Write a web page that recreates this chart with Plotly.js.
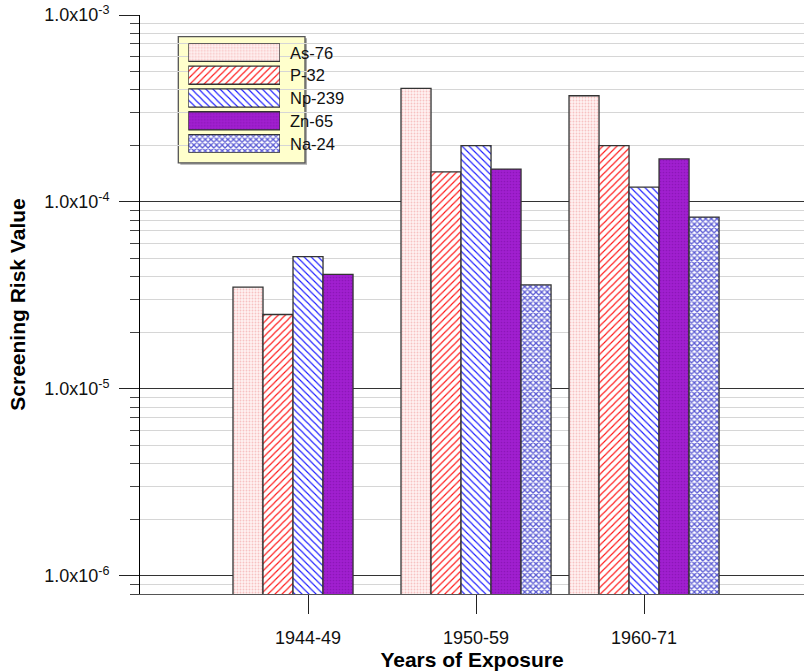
<!DOCTYPE html>
<html><head><meta charset="utf-8">
<script src="https://cdn.plot.ly/plotly-3.0.1.min.js"></script>
<style>html,body{margin:0;padding:0;background:#fff;overflow:hidden}</style>
</head><body><div id="chart" style="width:804px;height:672px"></div>
<script>
// ---- data ----
const periods = ['1944-49', '1950-59', '1960-71'];
const isotopes = ['As-76', 'P-32', 'Np-239', 'Zn-65', 'Na-24'];
const as76  = [3.5e-5, 4.05e-4, 3.7e-4];
const p32   = [2.5e-5, 1.45e-4, 2.0e-4];
const np239 = [5.1e-5, 2.0e-4, 1.2e-4];
const zn65  = [4.1e-5, 1.5e-4, 1.7e-4];
const na24  = [null, 3.6e-5, 8.3e-5];
const yTickVals = [1e-6, 1e-5, 1e-4, 1e-3];
const yTickText = ['1.0x10<sup>-6</sup>', '1.0x10<sup>-5</sup>', '1.0x10<sup>-4</sup>', '1.0x10<sup>-3</sup>'];
const xTitle = 'Years of Exposure';
const yTitle = 'Screening Risk Value';

// ---- styles ----
const series = [as76, p32, np239, zn65, na24];
const styles = [
  {bg: '#fff2f2', fg: '#f7c2c2', shape: '.', size: 3, sol: 0.3},
  {bg: '#ffffff', fg: '#ff1414', shape: '/', size: 5, sol: 0.22},
  {bg: '#ffffff', fg: '#1a1aff', shape: '\\', size: 5, sol: 0.22},
  {bg: '#a11fd0', fg: '#8c16b8', shape: '.', size: 3, sol: 0.25},
  {bg: '#ffffff', fg: '#5a5ad4', shape: 'x', size: 4, sol: 0.55}
];
const FONT = 'Liberation Sans, Arial, sans-serif';

const traces = [];
series.forEach((vals, i) => {
  const s = styles[i];
  traces.push({
    type: 'bar', x: periods, y: vals, name: isotopes[i], showlegend: false,
    marker: {color: s.bg, line: {color: '#333', width: 1.3},
      pattern: {shape: s.shape, fgcolor: s.fg, bgcolor: s.bg, size: s.size, solidity: s.sol, fillmode: 'replace'}},
    hoverinfo: 'skip'
  });
});
// legend swatches (separate hidden subplot)
isotopes.forEach((name, i) => {
  const s = styles[i];
  traces.push({
    type: 'bar', orientation: 'h', y: [i], x: [1], base: 0, width: 0.795, offset: -0.3975,
    xaxis: 'x2', yaxis: 'y2', showlegend: false, hoverinfo: 'skip',
    marker: {color: s.bg, line: {color: '#333', width: 1.3},
      pattern: {shape: s.shape, fgcolor: s.fg, bgcolor: s.bg, size: s.size, solidity: s.sol, fillmode: 'replace'}}
  });
});

const minorVals = [];
for (let k = -7; k <= -4; k++) for (let m = 2; m <= 9; m++) minorVals.push(m * Math.pow(10, k));

const plotTop = 15, plotBottom = 594, plotH = plotBottom - plotTop;
const rowY = [52.5, 75.4, 98.3, 121.2, 144.1];
const annotations = isotopes.map((name, i) => ({
  xref: 'paper', yref: 'paper', x: (288 - 140) / 664, y: (plotBottom - rowY[i]) / plotH,
  xanchor: 'left', yanchor: 'middle', text: name, showarrow: false,
  font: {family: FONT, size: 16.5, color: '#111'}
}));

const layout = {
  width: 804, height: 672,
  margin: {l: 140, r: 0, t: 15, b: 78, pad: 0},
  paper_bgcolor: '#fff', plot_bgcolor: 'rgba(0,0,0,0)',
  barmode: 'group', bargap: 0.107, bargroupgap: 0,
  showlegend: false,
  font: {family: FONT, color: '#111'},
  xaxis: {
    type: 'category', range: [-1, 2.952], showgrid: false,
    ticks: 'outside', ticklen: 19, tickcolor: '#222', tickwidth: 1,
    showline: true, linecolor: '#555', linewidth: 1.3,
    tickfont: {family: FONT, size: 18, color: '#111'}, ticklabelstandoff: 8,
    title: {text: xTitle, font: {family: FONT, size: 21, color: '#000', weight: 'bold'}, standoff: 3},
    fixedrange: true, automargin: false
  },
  yaxis: {
    type: 'log', range: [Math.log10(8e-7), -3],
    tickvals: yTickVals, ticktext: yTickText,
    ticks: 'outside', ticklen: 20, tickcolor: '#222', tickwidth: 1,
    showgrid: true, gridcolor: '#333', gridwidth: 1,
    showline: true, linecolor: '#000', linewidth: 1,
    tickfont: {family: FONT, size: 18, color: '#111'}, ticklabelstandoff: 6,
    minor: {tickvals: minorVals, ticks: 'outside', ticklen: 9, tickcolor: '#444', showgrid: true, gridcolor: '#d6d6d6', gridwidth: 1},
    title: {text: yTitle, font: {family: FONT, size: 21, color: '#000', weight: 'bold'}, standoff: 12},
    fixedrange: true, automargin: false
  },
  xaxis2: {domain: [(188.3 - 140) / 664, (280 - 140) / 664], range: [0, 1], visible: false, anchor: 'y2', fixedrange: true},
  yaxis2: {domain: [(plotBottom - 152.7) / plotH, (plotBottom - 43.3) / plotH], range: [4.3975, -0.3975], visible: false, anchor: 'x2', fixedrange: true},
  shapes: [
    {type: 'rect', xref: 'x', yref: 'y', layer: 'below', x0: -0.76, x1: -0.006, y0: 1.58e-4, y1: 7.5e-4,
      fillcolor: '#aaa', line: {width: 0}},
    {type: 'rect', xref: 'x', yref: 'y', layer: 'below', x0: -0.772, x1: -0.018, y0: 1.62e-4, y1: 7.66e-4,
      fillcolor: '#ffffcc', line: {color: '#555', width: 1.3}}
  ],
  annotations: annotations
};

Plotly.newPlot('chart', traces, layout, {displayModeBar: false, staticPlot: true});
</script>
</body></html>
